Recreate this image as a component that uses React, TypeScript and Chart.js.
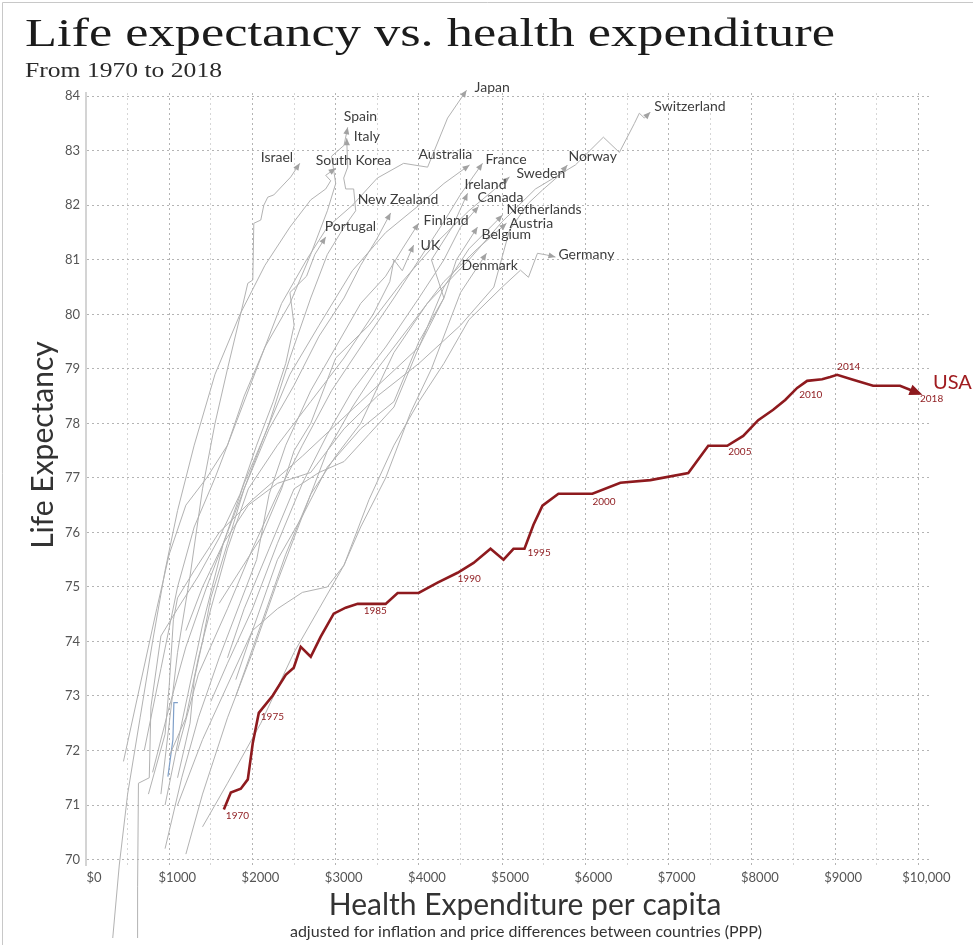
import React, { useEffect, useRef } from "react";
import { Chart, registerables } from "chart.js";

Chart.register(...registerables);

type P = [number, number];

// ---------- axis ticks ----------
const yTickValues = [70, 71, 72, 73, 74, 75, 76, 77, 78, 79, 80, 81, 82, 83, 84];
const xTickValues = [0, 1000, 2000, 3000, 4000, 5000, 6000, 7000, 8000, 9000, 10000];
const xTickLabels = ["$0", "$1000", "$2000", "$3000", "$4000", "$5000", "$6000", "$7000", "$8000", "$9000", "$10,000"];
const xGridValues = [0, 500, 1000, 1500, 2000, 2500, 3000, 3500, 4000, 4500, 5000, 5500, 6000, 6500, 7000, 7500, 8000, 8500, 9000, 9500, 10000];

// ---------- USA ----------
const usaYears = [1970, 1971, 1972, 1973, 1974, 1975, 1976, 1977, 1978, 1979, 1980, 1981, 1982, 1983, 1984, 1985, 1986, 1987, 1988, 1989, 1990, 1991, 1992, 1993, 1994, 1995, 1996, 1997, 1998, 1999, 2000, 2001, 2002, 2003, 2004, 2005, 2006, 2007, 2008, 2009, 2010, 2011, 2012, 2013, 2014, 2015, 2016, 2017, 2018];
const usaSpend = [1656, 1740, 1860, 1944, 2004, 2076, 2244, 2400, 2496, 2580, 2700, 2820, 2976, 3120, 3264, 3420, 3600, 3744, 3996, 4224, 4464, 4656, 4860, 5016, 5136, 5268, 5376, 5484, 5676, 5880, 6084, 6420, 6780, 7236, 7476, 7704, 7896, 8076, 8256, 8400, 8544, 8664, 8844, 8940, 9024, 9216, 9456, 9780, 9960];
const usaLife = [70.92, 71.23, 71.3, 71.47, 72.14, 72.69, 73.01, 73.39, 73.52, 73.9, 73.72, 74.09, 74.51, 74.62, 74.69, 74.69, 74.69, 74.89, 74.89, 75.08, 75.26, 75.44, 75.7, 75.5, 75.7, 75.7, 76.14, 76.49, 76.71, 76.71, 76.71, 76.91, 76.96, 77.09, 77.59, 77.59, 77.77, 78.06, 78.25, 78.43, 78.65, 78.78, 78.81, 78.85, 78.89, 78.8, 78.69, 78.69, 78.58];
const usaLabelYears = [1970, 1975, 1985, 1990, 1995, 2000, 2005, 2010, 2014, 2018];

// ---------- other countries: [spending per capita, life expectancy] ----------
const japan: P[] = [[700, 72.0], [900, 73.5], [1100, 75.0], [1300, 76.1], [1550, 77.0], [1800, 78.0], [2050, 79.0], [2350, 80.2], [2650, 81.0], [2900, 81.6], [3200, 82.0], [3500, 82.5], [3816, 82.77], [4104, 82.7], [4344, 83.6], [4572, 84.11]];
const switzerland: P[] = [[1800, 73.0], [2100, 74.3], [2400, 75.6], [2700, 76.7], [3000, 77.4], [3300, 78.0], [3700, 79.3], [4100, 80.2], [4600, 81.0], [5000, 81.7], [5400, 82.3], [5880, 82.74], [6216, 83.25], [6408, 82.97], [6588, 83.5], [6648, 83.69], [6708, 83.6], [6780, 83.71]];
const spain: P[] = [[450, 71.8], [650, 73.2], [850, 74.6], [1000, 75.6], [1200, 76.5], [1450, 77.0], [1700, 77.6], [1900, 78.5], [2150, 79.4], [2450, 80.2], [2700, 81.1], [2900, 81.9], [3000, 82.4], [2950, 82.9], [3100, 83.1], [3144, 83.43]];
const italy: P[] = [[800, 71.6], [1000, 72.8], [1200, 73.9], [1450, 75.0], [1700, 76.0], [1950, 77.0], [2200, 78.0], [2450, 79.2], [2700, 80.3], [2900, 81.1], [3100, 81.6], [3240, 81.9], [3216, 82.3], [3120, 82.3], [3096, 82.5], [3144, 82.7], [3132, 83.23]];
const israel: P[] = [[900, 71.2], [1000, 72.5], [1100, 73.8], [1250, 75.2], [1400, 76.8], [1550, 78.0], [1700, 79.0], [1860, 80.02], [1944, 80.57], [2004, 80.63], [2016, 81.67], [2100, 81.73], [2136, 82.0], [2184, 82.15], [2256, 82.19], [2460, 82.52], [2568, 82.77]];
const southKorea: P[] = [[200, 66.5], [400, 69.9], [500, 71.2], [650, 72.6], [800, 74.0], [950, 75.3], [1100, 76.4], [1300, 77.6], [1550, 78.9], [1850, 80.0], [2150, 80.9], [2450, 81.6], [2700, 82.1], [2880, 82.3], [2940, 82.45], [2880, 82.55], [3000, 82.68]];
const australia: P[] = [[950, 71.0], [1150, 72.5], [1400, 74.3], [1650, 75.8], [1900, 76.9], [2150, 77.8], [2450, 78.9], [2800, 79.8], [3200, 80.8], [3600, 81.5], [4000, 82.0], [4300, 82.4], [4608, 82.74]];
const france: P[] = [[1100, 72.0], [1350, 73.4], [1700, 74.6], [2000, 75.7], [2300, 76.7], [2600, 77.6], [2950, 78.6], [3300, 79.4], [3700, 80.3], [4000, 81.0], [4300, 81.7], [4500, 82.2], [4764, 82.77]];
const norway: P[] = [[1200, 74.2], [1400, 75.0], [1650, 75.8], [1950, 76.5], [2300, 76.9], [2700, 77.1], [3100, 77.9], [3500, 78.5], [4000, 79.1], [4500, 79.8], [4900, 80.5], [5088, 81.54], [5316, 82.04], [5484, 82.28], [5664, 82.52], [5784, 82.74]];
const sweden: P[] = [[1600, 74.7], [1850, 75.3], [2100, 75.9], [2350, 76.8], [2500, 77.5], [2700, 78.0], [3000, 79.2], [3400, 79.8], [3800, 80.6], [4200, 81.3], [4600, 81.9], [5088, 82.52]];
const ireland: P[] = [[750, 71.2], [950, 72.3], [1000, 73.2], [1050, 74.4], [1100, 74.8], [1300, 75.3], [1600, 76.0], [2000, 76.6], [2600, 77.4], [3300, 78.4], [4000, 79.4], [4300, 80.3], [4150, 81.0], [4400, 81.6], [4584, 82.22]];
const canada: P[] = [[1500, 72.9], [1700, 73.6], [2000, 74.6], [2300, 75.8], [2600, 76.9], [2900, 77.8], [3200, 78.6], [3600, 79.4], [4000, 80.3], [4300, 81.0], [4500, 81.6], [4716, 81.98]];
const newZealand: P[] = [[1100, 71.5], [1250, 72.5], [1300, 73.3], [1400, 74.0], [1500, 74.8], [1700, 75.8], [1900, 76.8], [2200, 77.9], [2500, 78.7], [2800, 79.6], [3100, 80.3], [3300, 80.9], [3500, 81.4], [3660, 81.86]];
const netherlands: P[] = [[1700, 73.7], [1900, 74.6], [2200, 75.7], [2500, 76.8], [2800, 77.1], [3100, 77.3], [3400, 77.8], [3700, 78.3], [4000, 79.4], [4300, 80.5], [4600, 81.2], [5004, 81.82]];
const finland: P[] = [[950, 70.2], [1150, 71.5], [1350, 72.6], [1600, 73.7], [1850, 74.7], [2050, 75.5], [2200, 76.7], [2400, 77.6], [2700, 78.6], [3000, 79.4], [3300, 80.2], [3600, 80.7], [3800, 81.2], [3996, 81.67]];
const austria: P[] = [[1200, 70.1], [1400, 71.2], [1700, 72.6], [2000, 73.8], [2300, 75.1], [2600, 76.3], [2900, 77.5], [3200, 78.3], [3500, 79.0], [3900, 79.8], [4300, 80.6], [4700, 81.2], [5052, 81.67]];
const portugal: P[] = [[620, 66.5], [620, 69.5], [630, 71.4], [760, 71.5], [780, 72.8], [900, 74.1], [1100, 74.6], [1350, 75.2], [1600, 75.9], [1850, 76.7], [2050, 77.6], [2250, 78.4], [2400, 79.1], [2500, 79.8], [2450, 80.4], [2650, 80.7], [2750, 81.1], [2880, 81.42]];
const belgium: P[] = [[1100, 71.0], [1400, 72.2], [1700, 73.2], [2000, 74.2], [2300, 75.5], [2600, 76.3], [2900, 77.2], [3300, 77.9], [3700, 78.4], [4000, 79.5], [4300, 80.3], [4450, 81.0], [4704, 81.6]];
const uk: P[] = [[1000, 71.9], [1200, 72.6], [1350, 73.7], [1500, 74.6], [1700, 75.7], [1950, 76.8], [2300, 77.6], [2700, 78.4], [3100, 79.2], [3450, 80.0], [3650, 80.6], [3700, 81.0], [3800, 80.8], [3936, 81.27]];
const denmark: P[] = [[1800, 73.3], [2000, 74.2], [2300, 74.6], [2600, 74.9], [2900, 75.0], [3100, 75.4], [3300, 76.1], [3600, 77.0], [3900, 78.2], [4150, 79.0], [4350, 79.8], [4500, 80.4], [4812, 81.12]];
const germany: P[] = [[1400, 70.6], [1700, 71.4], [2100, 72.5], [2500, 73.8], [2800, 74.6], [3100, 75.4], [3400, 76.6], [3700, 77.6], [4000, 78.4], [4300, 79.1], [4600, 79.9], [5000, 80.5], [5220, 80.81], [5316, 80.68], [5424, 81.12], [5532, 81.09], [5640, 81.05]];
const unlabeledBlue: P[] = [[984, 71.52], [1044, 72.2], [1056, 72.88], [1104, 72.88]];

const countryNames = ["Japan", "Switzerland", "Spain", "Italy", "Israel", "South Korea", "Australia", "France", "Norway", "Sweden", "Ireland", "Canada", "New Zealand", "Netherlands", "Finland", "Austria", "Portugal", "Belgium", "UK", "Denmark", "Germany"];
const countrySeries = [japan, switzerland, spain, italy, israel, southKorea, australia, france, norway, sweden, ireland, canada, newZealand, netherlands, finland, austria, portugal, belgium, uk, denmark, germany];

// ---------- text ----------
const titleText = "Life expectancy vs. health expenditure";
const subtitleText = "From 1970 to 2018";
const yTitle = "Life Expectancy";
const xTitle = "Health Expenditure per capita";
const xSubtitle = "adjusted for inflation and price differences between countries (PPP)";

// ---------- styling (label offsets in pixels, relative to the line end) ----------
const labelOffsets: Record<string, [number, number]> = {
  Japan: [8, -3], Switzerland: [4, -6], Spain: [-4, -11], Italy: [7, -2], Israel: [-39, -6],
  "South Korea": [-20, -8], Australia: [-51, -10], France: [3, -4], Norway: [1, -8], Sweden: [7, -3],
  Ireland: [-3, -9], Canada: [-1, -9], "New Zealand": [-33, -13], Netherlands: [4, -6], Finland: [5, -3],
  Austria: [3, 0], Portugal: [-1, -10], Belgium: [4, 7], UK: [7, 0], Denmark: [-25, 12], Germany: [3, -3],
};
const yearOffsets: Record<number, [number, number]> = {
  1970: [2, 6], 1975: [2, 4], 1985: [-7, 7], 1990: [0, 6], 1995: [3, 4], 2000: [0, 8],
  2005: [1, 6], 2010: [2, 7], 2014: [0, -8], 2018: [5, 7],
};

const SERIF = '"Liberation Serif", "DejaVu Serif", serif';
const SANS = 'Lato, "Open Sans", sans-serif';
const GREY = "#b2b2b2";
const RED = "#8e1a1e";
const BLUE = "#7f9fc8";

function drawArrow(ctx: CanvasRenderingContext2D, x1: number, y1: number, x2: number, y2: number, len: number, half: number, extend: number, color: string) {
  const dx = x2 - x1, dy = y2 - y1;
  const d = Math.hypot(dx, dy) || 1;
  const ux = dx / d, uy = dy / d;
  const tx = x2 + ux * extend, ty = y2 + uy * extend;
  const bx = tx - ux * len, by = ty - uy * len;
  ctx.beginPath();
  ctx.moveTo(tx, ty);
  ctx.lineTo(bx - uy * half, by + ux * half);
  ctx.lineTo(bx + uy * half, by - ux * half);
  ctx.closePath();
  ctx.fillStyle = color;
  ctx.fill();
}

function fitText(ctx: CanvasRenderingContext2D, text: string, x: number, y: number, width: number) {
  const w = ctx.measureText(text).width;
  const sx = width / w;
  ctx.save();
  ctx.translate(x, y);
  ctx.scale(sx, 1);
  ctx.fillText(text, 0, 0);
  ctx.restore();
}

const decorPlugin = {
  id: "decor",
  beforeDraw(chart: any) {
    const { ctx, width, height } = chart;
    ctx.save();
    ctx.fillStyle = "#ffffff";
    ctx.fillRect(0, 0, width, height);
    ctx.strokeStyle = "#c8c8c8";
    ctx.lineWidth = 1;
    ctx.beginPath();
    ctx.moveTo(2.5, height);
    ctx.lineTo(2.5, 2.5);
    ctx.lineTo(width, 2.5);
    ctx.stroke();

    ctx.fillStyle = "#1b1b1b";
    ctx.textAlign = "left";
    ctx.textBaseline = "alphabetic";
    ctx.font = `39px ${SERIF}`;
    fitText(ctx, titleText, 25, 46, 810);
    ctx.fillStyle = "#2a2a2a";
    ctx.font = `20px ${SERIF}`;
    fitText(ctx, subtitleText, 25, 77, 197);

    ctx.fillStyle = "#333333";
    ctx.font = `30px ${SANS}`;
    ctx.textAlign = "center";
    ctx.fillText(xTitle, 525, 915);
    ctx.font = `16px ${SANS}`;
    ctx.fillText(xSubtitle, 526, 937);

    ctx.save();
    ctx.translate(53, 445);
    ctx.rotate(-Math.PI / 2);
    ctx.font = `30px ${SANS}`;
    ctx.fillText(yTitle, 0, 0);
    ctx.restore();
    ctx.restore();
  },
  afterDatasetsDraw(chart: any) {
    const { ctx } = chart;
    const xs = chart.scales.x, ys = chart.scales.y;
    const px = (v: number) => xs.getPixelForValue(v);
    const py = (v: number) => ys.getPixelForValue(v);
    ctx.save();
    countrySeries.forEach((s) => {
      const a = s[s.length - 2], b = s[s.length - 1];
      drawArrow(ctx, px(a[0]), py(a[1]), px(b[0]), py(b[1]), 7, 3, 0, "#a2a2a2");
    });
    const n = usaSpend.length;
    drawArrow(ctx, px(usaSpend[n - 2]), py(usaLife[n - 2]), px(usaSpend[n - 1]), py(usaLife[n - 1]), 13, 5.5, 8, RED);

    ctx.font = `14px ${SANS}`;
    ctx.fillStyle = "#3d3d3d";
    ctx.textAlign = "left";
    ctx.textBaseline = "middle";
    countrySeries.forEach((s, i) => {
      const name = countryNames[i];
      const e = s[s.length - 1];
      const off = labelOffsets[name] || [4, 0];
      ctx.fillText(name, px(e[0]) + off[0], py(e[1]) + off[1]);
    });

    ctx.font = `10px ${SANS}`;
    ctx.fillStyle = RED;
    usaLabelYears.forEach((yr) => {
      const i = usaYears.indexOf(yr);
      const off = yearOffsets[yr] || [2, 6];
      ctx.fillText(String(yr), px(usaSpend[i]) + off[0], py(usaLife[i]) + off[1]);
    });

    ctx.font = `20px ${SANS}`;
    ctx.fillStyle = "#a01c20";
    ctx.fillText("USA", px(usaSpend[n - 1]) + 18, py(usaLife[n - 1]) - 9);
    ctx.restore();
  },
};

export default function App() {
  const ref = useRef<HTMLCanvasElement | null>(null);

  useEffect(() => {
    if (!ref.current) return;
    const clip = { left: 20, top: 20, right: 45, bottom: 73 };
    const datasets: any[] = [
      {
        label: "USA",
        data: usaSpend.map((x, i) => ({ x, y: usaLife[i] })),
        borderColor: RED,
        borderWidth: 2.6,
        showLine: true,
        pointRadius: 0,
        tension: 0,
        clip,
        order: 0,
      },
      ...countrySeries.map((s, i) => ({
        label: countryNames[i],
        data: s.map((p) => ({ x: p[0], y: p[1] })),
        borderColor: GREY,
        borderWidth: 1,
        showLine: true,
        pointRadius: 0,
        tension: 0,
        clip,
        order: 1,
      })),
      {
        label: "other",
        data: unlabeledBlue.map((p) => ({ x: p[0], y: p[1] })),
        borderColor: BLUE,
        borderWidth: 1.2,
        showLine: true,
        pointRadius: 0,
        tension: 0,
        clip,
        order: 1,
      },
    ];

    const chart = new Chart(ref.current, {
      type: "scatter",
      data: { datasets },
      options: {
        responsive: false,
        maintainAspectRatio: false,
        animation: false,
        events: [],
        layout: { padding: { left: 0, right: 43, top: 93, bottom: 0 } },
        plugins: { legend: { display: false }, tooltip: { enabled: false }, title: { display: false } },
        scales: {
          x: {
            type: "linear",
            min: 0,
            max: 10140,
            afterBuildTicks: (s: any) => {
              s.ticks = xGridValues.map((v) => ({ value: v }));
            },
            afterFit: (s: any) => {
              s.height = 80;
            },
            ticks: {
              autoSkip: false,
              maxRotation: 0,
              padding: 5,
              labelOffset: 8,
              color: "#555555",
              font: { family: SANS, size: 13 },
              callback: (v: any) => {
                const i = xTickValues.indexOf(Number(v));
                return i >= 0 ? xTickLabels[i] : "";
              },
            },
            grid: {
              drawTicks: false,
              lineWidth: 1,
              color: (c: any) => (c.tick && c.tick.value % 1000 === 0 ? "#b4b4b4" : "#d6d6d6"),
            },
            border: { display: false, dash: [2, 3] },
          },
          y: {
            type: "linear",
            min: 69.9,
            max: 84.06,
            afterBuildTicks: (s: any) => {
              s.ticks = yTickValues.map((v) => ({ value: v }));
            },
            afterFit: (s: any) => {
              s.width = 86;
            },
            ticks: {
              autoSkip: false,
              padding: 6,
              color: "#555555",
              font: { family: SANS, size: 13 },
              callback: (v: any) => String(v),
            },
            grid: { drawTicks: false, lineWidth: 1, color: "#b4b4b4" },
            border: { display: true, color: "#d4d4d4", width: 2, dash: [2, 3] },
          },
        },
      },
      plugins: [decorPlugin],
    } as any);

    return () => chart.destroy();
  }, []);

  return (
    <div style={{ position: "fixed", left: 0, top: 0, width: 973, height: 945, background: "#fff" }}>
      <canvas ref={ref} width={973} height={945} style={{ display: "block" }} />
    </div>
  );
}
